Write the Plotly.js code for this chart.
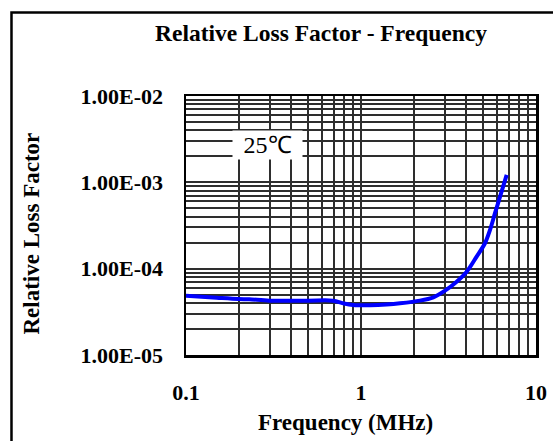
<!DOCTYPE html>
<html>
<head>
<meta charset="utf-8">
<script src="https://cdn.plot.ly/plotly-3.0.1.min.js"></script>
<style>
  html, body { margin: 0; padding: 0; background: #fff; }
  #chart { width: 553px; height: 441px; }
</style>
</head>
<body>
<div id="chart"></div>
<script>
// Data
const frequencyMHz = [0.1, 0.15, 0.2, 0.23, 0.3, 0.5, 0.69, 0.8, 0.9, 1.0, 1.13, 1.4, 1.67, 2.17, 2.59, 3.02, 3.52, 4.02, 4.58, 5.11, 5.46, 5.83, 6.23, 6.8];
const lossFactor = [4.87e-5, 4.61e-5, 4.45e-5, 4.42e-5, 4.26e-5, 4.26e-5, 4.26e-5, 3.95e-5, 3.8e-5, 3.77e-5, 3.77e-5, 3.85e-5, 3.97e-5, 4.26e-5, 4.66e-5, 5.56e-5, 7.07e-5, 9.23e-5, 1.38e-4, 1.97e-4, 2.81e-4, 4.39e-4, 6.83e-4, 1.22e-3];

const xTickVals = [0.1,0.2,0.3,0.4,0.5,0.6,0.7,0.8,0.9,1,2,3,4,5,6,7,8,9,10];
const xTickText = ['0.1','','','','','','','','','1','','','','','','','','','10'];
const yTickVals = [1e-5,2e-5,3e-5,4e-5,5e-5,6e-5,7e-5,8e-5,9e-5,1e-4,2e-4,3e-4,4e-4,5e-4,6e-4,7e-4,8e-4,9e-4,1e-3,2e-3,3e-3,4e-3,5e-3,6e-3,7e-3,8e-3,9e-3,1e-2];
const yTickText = ['1.00E-05','','','','','','','','','1.00E-04','','','','','','','','','1.00E-03','','','','','','','','','1.00E-02'];

const chartTitle = 'Relative Loss Factor - Frequency';
const xTitle = 'Frequency (MHz)';
const yTitle = 'Relative Loss Factor';
const tempLabel = '25℃';

const serif = '"Liberation Serif", "Times New Roman", serif';

const trace = {
  x: frequencyMHz,
  y: lossFactor,
  type: 'scatter',
  mode: 'lines',
  line: { color: '#0000FF', width: 4, shape: 'spline', smoothing: 0.9 },
  hoverinfo: 'skip'
};

const gridColor = '#2e2e2e';

const layout = {
  width: 553,
  height: 441,
  autosize: false,
  margin: { l: 186, r: 17, t: 96, b: 86 },
  paper_bgcolor: '#ffffff',
  plot_bgcolor: '#ffffff',
  showlegend: false,
  font: { family: serif, color: '#000' },
  xaxis: {
    type: 'log',
    range: [-1, 1],
    tickmode: 'array',
    tickvals: xTickVals,
    ticktext: xTickText,
    showgrid: true,
    gridcolor: gridColor,
    gridwidth: 2,
    zeroline: false,
    showline: true,
    linecolor: '#000',
    linewidth: 2.5,
    mirror: true,
    ticks: '',
    ticklabelstandoff: 16,
    tickfont: { family: serif, size: 22, color: '#000', weight: 'bold' },
    fixedrange: true
  },
  yaxis: {
    type: 'log',
    range: [-5, -2],
    tickmode: 'array',
    tickvals: yTickVals,
    ticktext: yTickText,
    showgrid: true,
    gridcolor: gridColor,
    gridwidth: 2,
    zeroline: false,
    showline: true,
    linecolor: '#000',
    linewidth: 2.5,
    mirror: true,
    ticks: '',
    ticklabelstandoff: 16,
    tickfont: { family: serif, size: 22, color: '#000', weight: 'bold' },
    fixedrange: true
  },
  annotations: [
    {
      text: '<b>' + chartTitle + '</b>',
      xref: 'paper', yref: 'paper',
      x: 0.3857, y: 1.245,
      xanchor: 'center', yanchor: 'middle',
      showarrow: false,
      font: { family: serif, size: 23.5, color: '#000' }
    },
    {
      text: '<b>' + xTitle + '</b>',
      xref: 'paper', yref: 'paper',
      x: 0.4557, y: -0.2625,
      xanchor: 'center', yanchor: 'middle',
      showarrow: false,
      font: { family: serif, size: 23, color: '#000' }
    },
    {
      text: '<b>' + yTitle + '</b>',
      xref: 'paper', yref: 'paper',
      x: -0.44, y: 0.469,
      xanchor: 'center', yanchor: 'middle',
      textangle: -90,
      showarrow: false,
      font: { family: serif, size: 23, color: '#000' }
    },
    {
      text: tempLabel,
      xref: 'paper', yref: 'paper',
      x: 0.2329, y: 0.8127,
      xanchor: 'center', yanchor: 'middle',
      showarrow: false,
      bgcolor: '#ffffff',
      borderpad: 3,
      width: 63,
      height: 22,
      font: { family: serif, size: 24, color: '#000' }
    }
  ],
  shapes: [
    {
      type: 'rect',
      xref: 'paper', yref: 'paper',
      x0: -0.4986, x1: 1.2,
      y0: -0.4, y1: 1.3224,
      line: { color: '#000', width: 2.5 },
      fillcolor: 'rgba(0,0,0,0)',
      layer: 'above'
    }
  ]
};

Plotly.newPlot('chart', [trace], layout, { staticPlot: true, displayModeBar: false });
</script>
</body>
</html>
